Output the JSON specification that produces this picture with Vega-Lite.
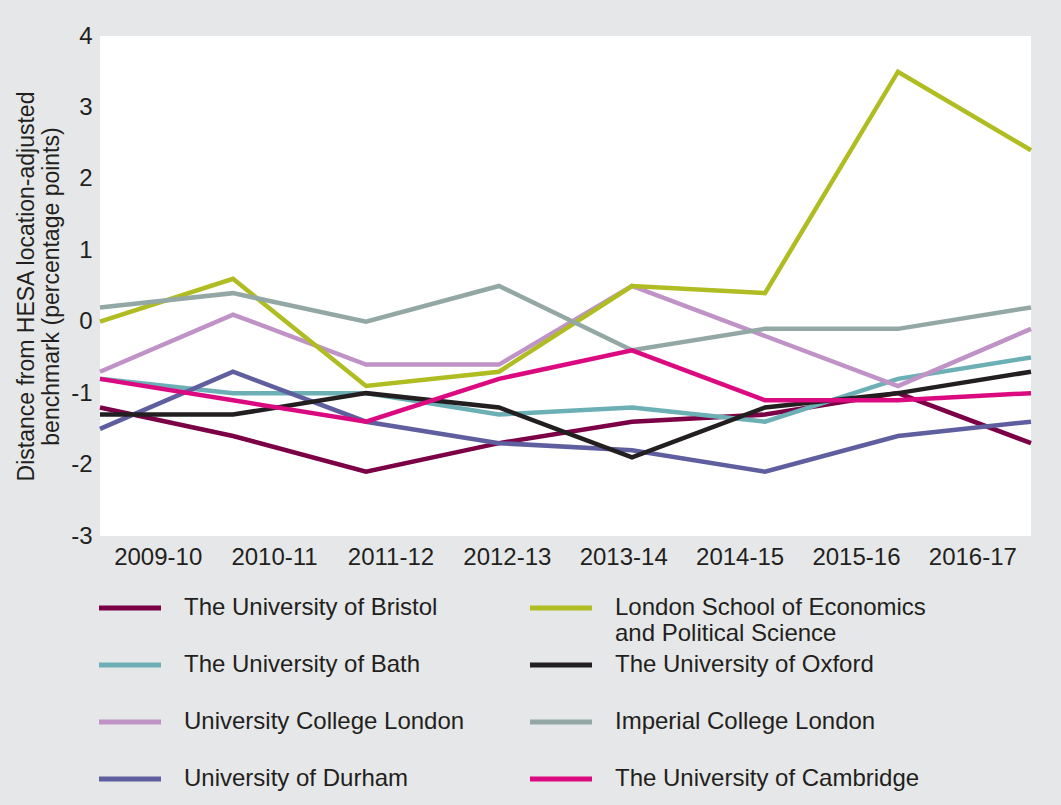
{
  "$schema": "https://vega.github.io/schema/vega-lite/v6.json",
  "autosize": "none",
  "width": 931,
  "height": 500,
  "padding": {"left": 100, "top": 36, "right": 30, "bottom": 269},
  "background": "#e6e7e8",
  "config": {
    "view": {"fill": "white", "stroke": null},
    "font": "Liberation Sans"
  },
  "data": {"values": [
    {"u": "The University of Bristol", "year": "2009-10", "v": -1.2},
    {"u": "The University of Bristol", "year": "2010-11", "v": -1.6},
    {"u": "The University of Bristol", "year": "2011-12", "v": -2.1},
    {"u": "The University of Bristol", "year": "2012-13", "v": -1.7},
    {"u": "The University of Bristol", "year": "2013-14", "v": -1.4},
    {"u": "The University of Bristol", "year": "2014-15", "v": -1.3},
    {"u": "The University of Bristol", "year": "2015-16", "v": -1.0},
    {"u": "The University of Bristol", "year": "2016-17", "v": -1.7},
    {"u": "The University of Bath", "year": "2009-10", "v": -0.8},
    {"u": "The University of Bath", "year": "2010-11", "v": -1.0},
    {"u": "The University of Bath", "year": "2011-12", "v": -1.0},
    {"u": "The University of Bath", "year": "2012-13", "v": -1.3},
    {"u": "The University of Bath", "year": "2013-14", "v": -1.2},
    {"u": "The University of Bath", "year": "2014-15", "v": -1.4},
    {"u": "The University of Bath", "year": "2015-16", "v": -0.8},
    {"u": "The University of Bath", "year": "2016-17", "v": -0.5},
    {"u": "University College London", "year": "2009-10", "v": -0.7},
    {"u": "University College London", "year": "2010-11", "v": 0.1},
    {"u": "University College London", "year": "2011-12", "v": -0.6},
    {"u": "University College London", "year": "2012-13", "v": -0.6},
    {"u": "University College London", "year": "2013-14", "v": 0.5},
    {"u": "University College London", "year": "2014-15", "v": -0.2},
    {"u": "University College London", "year": "2015-16", "v": -0.9},
    {"u": "University College London", "year": "2016-17", "v": -0.1},
    {"u": "University of Durham", "year": "2009-10", "v": -1.5},
    {"u": "University of Durham", "year": "2010-11", "v": -0.7},
    {"u": "University of Durham", "year": "2011-12", "v": -1.4},
    {"u": "University of Durham", "year": "2012-13", "v": -1.7},
    {"u": "University of Durham", "year": "2013-14", "v": -1.8},
    {"u": "University of Durham", "year": "2014-15", "v": -2.1},
    {"u": "University of Durham", "year": "2015-16", "v": -1.6},
    {"u": "University of Durham", "year": "2016-17", "v": -1.4},
    {"u": "London School of Economics and Political Science", "year": "2009-10", "v": 0.0},
    {"u": "London School of Economics and Political Science", "year": "2010-11", "v": 0.6},
    {"u": "London School of Economics and Political Science", "year": "2011-12", "v": -0.9},
    {"u": "London School of Economics and Political Science", "year": "2012-13", "v": -0.7},
    {"u": "London School of Economics and Political Science", "year": "2013-14", "v": 0.5},
    {"u": "London School of Economics and Political Science", "year": "2014-15", "v": 0.4},
    {"u": "London School of Economics and Political Science", "year": "2015-16", "v": 3.5},
    {"u": "London School of Economics and Political Science", "year": "2016-17", "v": 2.4},
    {"u": "The University of Oxford", "year": "2009-10", "v": -1.3},
    {"u": "The University of Oxford", "year": "2010-11", "v": -1.3},
    {"u": "The University of Oxford", "year": "2011-12", "v": -1.0},
    {"u": "The University of Oxford", "year": "2012-13", "v": -1.2},
    {"u": "The University of Oxford", "year": "2013-14", "v": -1.9},
    {"u": "The University of Oxford", "year": "2014-15", "v": -1.2},
    {"u": "The University of Oxford", "year": "2015-16", "v": -1.0},
    {"u": "The University of Oxford", "year": "2016-17", "v": -0.7},
    {"u": "Imperial College London", "year": "2009-10", "v": 0.2},
    {"u": "Imperial College London", "year": "2010-11", "v": 0.4},
    {"u": "Imperial College London", "year": "2011-12", "v": 0.0},
    {"u": "Imperial College London", "year": "2012-13", "v": 0.5},
    {"u": "Imperial College London", "year": "2013-14", "v": -0.4},
    {"u": "Imperial College London", "year": "2014-15", "v": -0.1},
    {"u": "Imperial College London", "year": "2015-16", "v": -0.1},
    {"u": "Imperial College London", "year": "2016-17", "v": 0.2},
    {"u": "The University of Cambridge", "year": "2009-10", "v": -0.8},
    {"u": "The University of Cambridge", "year": "2010-11", "v": -1.1},
    {"u": "The University of Cambridge", "year": "2011-12", "v": -1.4},
    {"u": "The University of Cambridge", "year": "2012-13", "v": -0.8},
    {"u": "The University of Cambridge", "year": "2013-14", "v": -0.4},
    {"u": "The University of Cambridge", "year": "2014-15", "v": -1.1},
    {"u": "The University of Cambridge", "year": "2015-16", "v": -1.1},
    {"u": "The University of Cambridge", "year": "2016-17", "v": -1.0}
  ]},
  "layer": [
    {
      "mark": {"type": "line", "strokeWidth": 4.5},
      "encoding": {
        "x": {"field": "year", "type": "ordinal", "scale": {"type": "point", "padding": 0}, "axis": null},
        "y": {
          "field": "v", "type": "quantitative",
          "scale": {"domain": [-3, 4], "nice": false, "zero": false},
          "axis": {
            "values": [-3, -2, -1, 0, 1, 2, 3, 4],
            "labelExpr": "'' + datum.value",
            "grid": false, "domain": false, "ticks": false,
            "labelPadding": 8, "labelFontSize": 24, "labelColor": "#231f20",
            "title": ["Distance from HESA location-adjusted", "benchmark (percentage points)"],
            "titleFontSize": 23, "titleFontWeight": "normal", "titleColor": "#231f20",
            "titleLineHeight": 25, "titleX": -62, "titleY": 250
          }
        },
        "color": {
          "field": "u", "type": "nominal",
          "scale": {
            "domain": ["The University of Bristol", "The University of Bath", "University College London", "University of Durham", "London School of Economics and Political Science", "The University of Oxford", "Imperial College London", "The University of Cambridge"],
            "range": ["#7b0046", "#6cb0b6", "#bf93c5", "#5f5f9f", "#afbd22", "#231f20", "#93a8a4", "#dc0a80"]
          },
          "legend": {
            "orient": "none", "legendX": -8, "legendY": 560,
            "columns": 2, "title": null,
            "symbolType": "M-1,0L11.4,0", "symbolSize": 100, "symbolStrokeWidth": 5,
            "labelFontSize": 24, "labelColor": "#231f20", "labelOffset": 68, "labelLimit": 500,
            "gridAlign": "all", "rowPadding": 7, "columnPadding": 25,
            "labelExpr": "datum.label == 'London School of Economics and Political Science' ? ['London School of Economics', 'and Political Science'] : [datum.label, ' ']"
          }
        }
      }
    },
    {
      "mark": {"type": "text", "text": ""},
      "encoding": {
        "x": {
          "field": "year", "type": "ordinal",
          "scale": {"type": "band", "padding": 0},
          "axis": {"domain": false, "ticks": false, "labelPadding": 9, "labelFontSize": 24, "labelColor": "#231f20", "title": null, "labelAngle": 0}
        }
      }
    }
  ],
  "resolve": {"scale": {"x": "independent"}}
}
